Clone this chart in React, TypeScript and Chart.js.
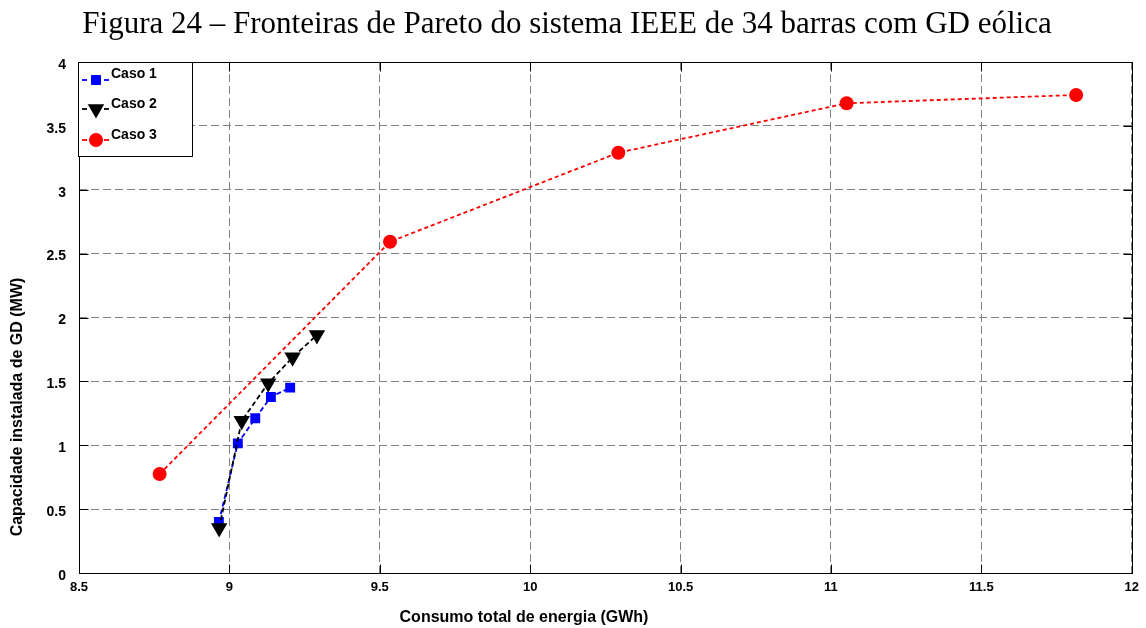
import React, { useEffect, useRef } from 'react';
import { Chart, registerables } from 'chart.js';

Chart.register(...registerables);

const TITLE = 'Figura 24 – Fronteiras de Pareto do sistema IEEE de 34 barras com GD eólica';
const X_TITLE = 'Consumo total de energia (GWh)';
const Y_TITLE = 'Capacidade instalada de GD (MW)';
const SERIES_NAMES = ['Caso 1', 'Caso 2', 'Caso 3'];

const caso1X = [8.965, 9.028, 9.086, 9.138, 9.202];
const caso1Y = [0.399, 1.015, 1.211, 1.378, 1.451];

const caso2X = [8.966, 9.041, 9.129, 9.21, 9.291];
const caso2Y = [0.352, 1.192, 1.485, 1.688, 1.863];

const caso3X = [8.768, 9.534, 10.293, 11.052, 11.815];
const caso3Y = [0.775, 2.593, 3.29, 3.677, 3.742];

const xTickLabels = ['8.5', '9', '9.5', '10', '10.5', '11', '11.5', '12'];
const yTickLabels = ['0', '0.5', '1', '1.5', '2', '2.5', '3', '3.5', '4'];

const X_MIN = 8.5;
const X_MAX = 12;
const Y_MIN = 0;
const Y_MAX = 4;
const STEP = 0.5;

const toPoints = (xs: number[], ys: number[]) => xs.map((x, i) => ({ x, y: ys[i] }));

const SANS = '"Liberation Sans", Arial, Helvetica, sans-serif';

function drawMarker(ctx: CanvasRenderingContext2D, style: string, x: number, y: number, r: number, color: string) {
  ctx.save();
  ctx.fillStyle = color;
  ctx.beginPath();
  if (style === 'rect') {
    const h = r * Math.SQRT1_2;
    ctx.rect(x - h, y - h, 2 * h, 2 * h);
  } else if (style === 'triangle') {
    const s = r * Math.sin(Math.PI / 3);
    ctx.moveTo(x, y + r);
    ctx.lineTo(x - s, y - r / 2);
    ctx.lineTo(x + s, y - r / 2);
    ctx.closePath();
  } else {
    ctx.arc(x, y, r, 0, Math.PI * 2);
  }
  ctx.fill();
  ctx.restore();
}

const decorPlugin = {
  id: 'decor',
  afterDraw(chart: any) {
    const { ctx, chartArea: a, scales } = chart;
    ctx.save();
    ctx.setLineDash([]);
    ctx.strokeStyle = '#000';
    ctx.lineWidth = 1;
    const T = 9;
    const seg = (x1: number, y1: number, x2: number, y2: number) => {
      ctx.beginPath();
      ctx.moveTo(x1, y1);
      ctx.lineTo(x2, y2);
      ctx.stroke();
    };
    const L = Math.round(a.left) + 0.5;
    const R = Math.round(a.right) + 0.5;
    const TP = Math.round(a.top) + 0.5;
    const B = Math.round(a.bottom) + 0.5;
    scales.x.ticks.forEach((t: any) => {
      const px = Math.round(scales.x.getPixelForValue(t.value)) + 0.5;
      seg(px, B, px, B - T);
      seg(px, TP, px, TP + T);
    });
    scales.y.ticks.forEach((t: any) => {
      const py = Math.round(scales.y.getPixelForValue(t.value)) + 0.5;
      seg(L, py, L + T, py);
      seg(R, py, R - T, py);
    });
    ctx.strokeRect(L, TP, R - L, B - TP);

    // axis titles
    ctx.fillStyle = '#000';
    ctx.font = `bold 16px ${SANS}`;
    ctx.textAlign = 'center';
    ctx.textBaseline = 'middle';
    ctx.fillText(X_TITLE, 524, 618);
    ctx.save();
    ctx.translate(17.5, 407);
    ctx.rotate(-Math.PI / 2);
    ctx.fillText(Y_TITLE, 0, 0);
    ctx.restore();

    // legend
    const bx = L - 1;
    const by = TP;
    ctx.fillStyle = '#fff';
    ctx.fillRect(bx, by, 114, 94);
    ctx.strokeStyle = '#000';
    ctx.strokeRect(bx, by, 114, 94);
    const markerY = [80, 109, 140];
    const textY = [74, 104, 135];
    chart.data.datasets.forEach((ds: any, i: number) => {
      const my = markerY[i];
      ctx.strokeStyle = ds.borderColor;
      ctx.lineWidth = 1.8;
      seg(82, my, 87, my);
      seg(104, my, 109, my);
      drawMarker(ctx, ds.pointStyle, 96, my, ds.legendRadius, ds.pointBackgroundColor);
      ctx.fillStyle = '#000';
      ctx.font = `bold 14px ${SANS}`;
      ctx.textAlign = 'left';
      ctx.textBaseline = 'middle';
      ctx.fillText(ds.label, 111, textY[i]);
    });
    ctx.restore();
  },
};

export default function App() {
  const ref = useRef<HTMLCanvasElement | null>(null);

  useEffect(() => {
    if (!ref.current) return;
    const chart = new Chart(ref.current, {
      type: 'scatter',
      data: {
        datasets: [
          {
            label: SERIES_NAMES[0],
            data: toPoints(caso1X, caso1Y),
            showLine: true,
            borderColor: '#0000ff',
            borderWidth: 1.8,
            borderDash: [5, 3],
            pointStyle: 'rect',
            pointRadius: 7,
            pointBackgroundColor: '#0000ff',
            pointBorderWidth: 0,
            legendRadius: 7,
            order: 3,
          } as any,
          {
            label: SERIES_NAMES[1],
            data: toPoints(caso2X, caso2Y),
            showLine: true,
            borderColor: '#000000',
            borderWidth: 1.8,
            borderDash: [5, 3],
            pointStyle: 'triangle',
            pointRotation: 180,
            pointRadius: 9.5,
            pointBackgroundColor: '#000000',
            pointBorderWidth: 0,
            legendRadius: 9.5,
            order: 2,
          } as any,
          {
            label: SERIES_NAMES[2],
            data: toPoints(caso3X, caso3Y),
            showLine: true,
            borderColor: '#ff0000',
            borderWidth: 1.8,
            borderDash: [4, 3],
            pointStyle: 'circle',
            pointRadius: 7,
            pointBackgroundColor: '#ff0000',
            pointBorderWidth: 0,
            legendRadius: 7,
            order: 1,
          } as any,
        ],
      },
      options: {
        responsive: false,
        animation: false,
        layout: { padding: { left: 0, right: 12, top: 0, bottom: 0 } },
        plugins: {
          legend: { display: false },
          tooltip: { enabled: false },
          title: {
            display: true,
            text: TITLE,
            color: '#000',
            font: { family: '"Liberation Serif", "Times New Roman", serif', size: 31, weight: 'normal' },
            padding: { top: 6, bottom: 18.8 },
          },
        },
        scales: {
          x: {
            type: 'linear',
            min: X_MIN,
            max: X_MAX,
            afterFit: (s: any) => { s.height = 55; },
            ticks: {
              stepSize: STEP,
              color: '#000',
              font: { family: SANS, size: 13, weight: 'bold' },
              padding: 7,
              maxRotation: 0,
              callback: (_v: any, i: number) => xTickLabels[i],
            },
            grid: { color: '#808080', lineWidth: 1, drawTicks: false },
            border: { display: false, dash: [8, 4] },
          },
          y: {
            type: 'linear',
            min: Y_MIN,
            max: Y_MAX,
            afterFit: (s: any) => { s.width = 79; },
            ticks: {
              stepSize: STEP,
              color: '#000',
              font: { family: SANS, size: 14, weight: 'bold' },
              padding: 13,
              labelOffset: 3,
              callback: (_v: any, i: number) => yTickLabels[i],
            },
            grid: { color: '#808080', lineWidth: 1, drawTicks: false },
            border: { display: false, dash: [8, 4] },
          },
        },
      },
      plugins: [decorPlugin],
    } as any);
    return () => chart.destroy();
  }, []);

  return (
    <div style={{ position: 'fixed', left: 0, top: 0, width: 1146, height: 628, background: '#fff' }}>
      <canvas ref={ref} width={1146} height={628} />
    </div>
  );
}
